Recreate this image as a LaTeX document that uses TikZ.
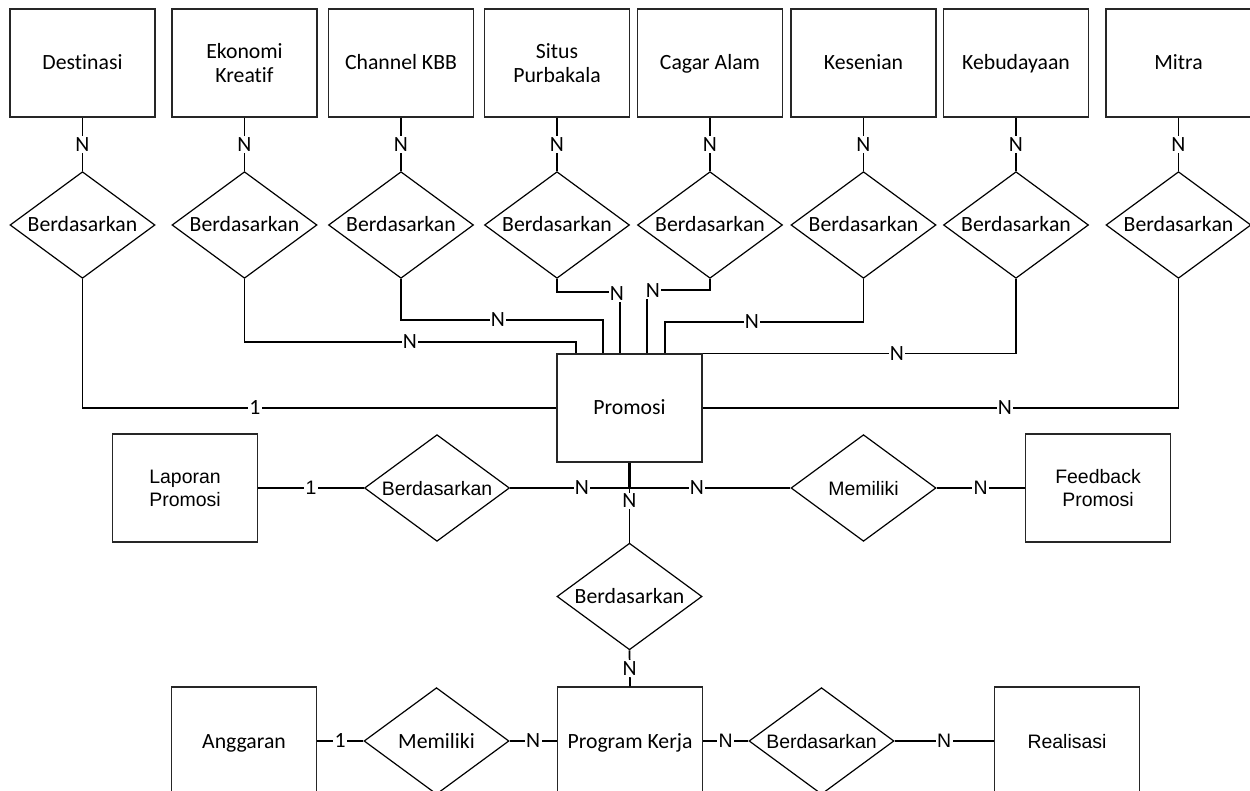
\documentclass[tikz,border=0pt]{standalone}
\usepackage{fontspec}
\setmainfont{Carlito}[Ligatures=CommonOff]
\newfontfamily\arialf{Liberation Sans}[Ligatures=CommonOff]
\usetikzlibrary{shapes.geometric}
\begin{document}
\begin{tikzpicture}[x=0.75pt,y=-0.75pt,
  ent/.style={draw=black!85, line width=0.9pt, minimum width=108.75pt, minimum height=81pt, inner sep=0pt, align=center, font=\fontsize{16.3}{18}\selectfont},
  rel/.style={draw, diamond, aspect=1.37, line width=0.9pt, minimum width=108.75pt, minimum height=80pt, inner sep=0pt, font=\fontsize{16.3}{18}\selectfont},
  one/.style={text height=12.5pt, text depth=2pt},
  con/.style={line width=1.3pt},
  lbl/.style={fill=white, inner sep=1pt, font=\fontsize{16.3}{18}\selectfont},
  ar/.style={font=\arialf\fontsize{14.6}{17.3}\selectfont}
]
\useasboundingbox (0,0) rectangle (1250,791);
\fill[white] (0,0) rectangle (1250,791);

% top entities
\node[ent,one] (b1) at (82.5,63) {Destinasi};
\node[ent] (b2) at (244.5,63) {Ekonomi\\Kreatif};
\node[ent,one] (b3) at (401,63) {Channel KBB};
\node[ent] (b4) at (557,63) {Situs\\Purbakala};
\node[ent,one] (b5) at (710,63) {Cagar Alam};
\node[ent,one] (b6) at (863.5,63) {Kesenian};
\node[ent,one] (b7) at (1016,63) {Kebudayaan};
\node[ent,one] (b8) at (1178.5,63) {Mitra};

% top relations
\node[rel,one] (d1) at (82.5,225) {Berdasarkan};
\node[rel,one] (d2) at (244.5,225) {Berdasarkan};
\node[rel,one] (d3) at (401,225) {Berdasarkan};
\node[rel,one] (d4) at (557,225) {Berdasarkan};
\node[rel,one] (d5) at (710,225) {Berdasarkan};
\node[rel,one] (d6) at (863.5,225) {Berdasarkan};
\node[rel,one] (d7) at (1016,225) {Berdasarkan};
\node[rel,one] (d8) at (1178.5,225) {Berdasarkan};

% centre
\node[ent,one] (pro) at (629.5,408) {Promosi};

% middle row
\node[ent,ar] (lap) at (185,488) {Laporan\\Promosi};
\node[rel,ar,one] (rl) at (437,488) {Berdasarkan};
\node[rel,ar,one] (rm) at (863.5,488) {Memiliki};
\node[ent,ar] (fb) at (1098,488) {Feedback\\Promosi};
\node[rel,one] (rc) at (629.5,596.5) {Berdasarkan};

% bottom row
\node[ent,one] (ang) at (244,741) {Anggaran};
\node[rel,one] (rb1) at (436.5,741) {Memiliki};
\node[ent,one] (pk) at (630,741) {Program Kerja};
\node[rel,ar,one] (rb2) at (821.5,741) {Berdasarkan};
\node[ent,ar,one] (rea) at (1067,741) {Realisasi};

% coordinates for bends
\coordinate (c2) at (575.7,342);
\coordinate (c3) at (602.7,320);
\coordinate (c4) at (620,292);
\coordinate (c5) at (647,290);
\coordinate (c6) at (665,322);
\coordinate (jn) at (629.5,488);

% box to diamond connectors
\foreach \i in {1,...,8}{
  \draw[con] (b\i.south) -- node[lbl]{N} (d\i.north);
}

% diamond to Promosi connectors
\draw[con] (d1.south) |- (pro.west);
\draw[con] (d2.south) |- (c2) -- (c2 |- pro.north);
\draw[con] (d3.south) |- (c3) -- (c3 |- pro.north);
\draw[con] (d4.south) |- (c4) -- (c4 |- pro.north);
\draw[con] (d5.south) |- (c5) -- (c5 |- pro.north);
\draw[con] (d6.south) |- (c6) -- (c6 |- pro.north);
\draw[con] (d7.south) |- (pro.north east);
\draw[con] (d8.south) |- (pro.east);

\node[lbl] (l1) at (255,408) {1};
\node[lbl] (l2) at (410,342) {N};
\node[lbl] (l3) at (498,320) {N};
\node[lbl] (l4) at (617,294) {N};
\node[lbl] (l5) at (653,291) {N};
\node[lbl] (l6) at (752,322) {N};
\node[lbl] (l7) at (897,354) {N};
\node[lbl] (l8) at (1005,408) {N};

% middle connectors
\draw[line width=2.2pt] (pro.south) -- (jn);
\draw[con] (rl.east) -- (jn) -- (rm.west);
\draw[con] (jn) -- (rc.north);
\node[lbl] (m1) at (582,488) {N};
\node[lbl] (m2) at (697,488) {N};
\node[lbl] (m3) at (629.5,501) {N};
\draw[con] (lap.east) -- node[lbl,ar]{1} (rl.west);
\draw[con] (rm.east) -- node[lbl,ar]{N} (fb.west);
\draw[con] (rc.south) -- node[lbl]{N} (pk.north);

% bottom connectors
\draw[con] (ang.east) -- node[lbl]{1} (rb1.west);
\draw[con] (rb1.east) -- node[lbl]{N} (pk.west);
\draw[con] (pk.east) -- node[lbl,ar]{N} (rb2.west);
\draw[con] (rb2.east) -- node[lbl,ar]{N} (rea.west);
\end{tikzpicture}
\end{document}
